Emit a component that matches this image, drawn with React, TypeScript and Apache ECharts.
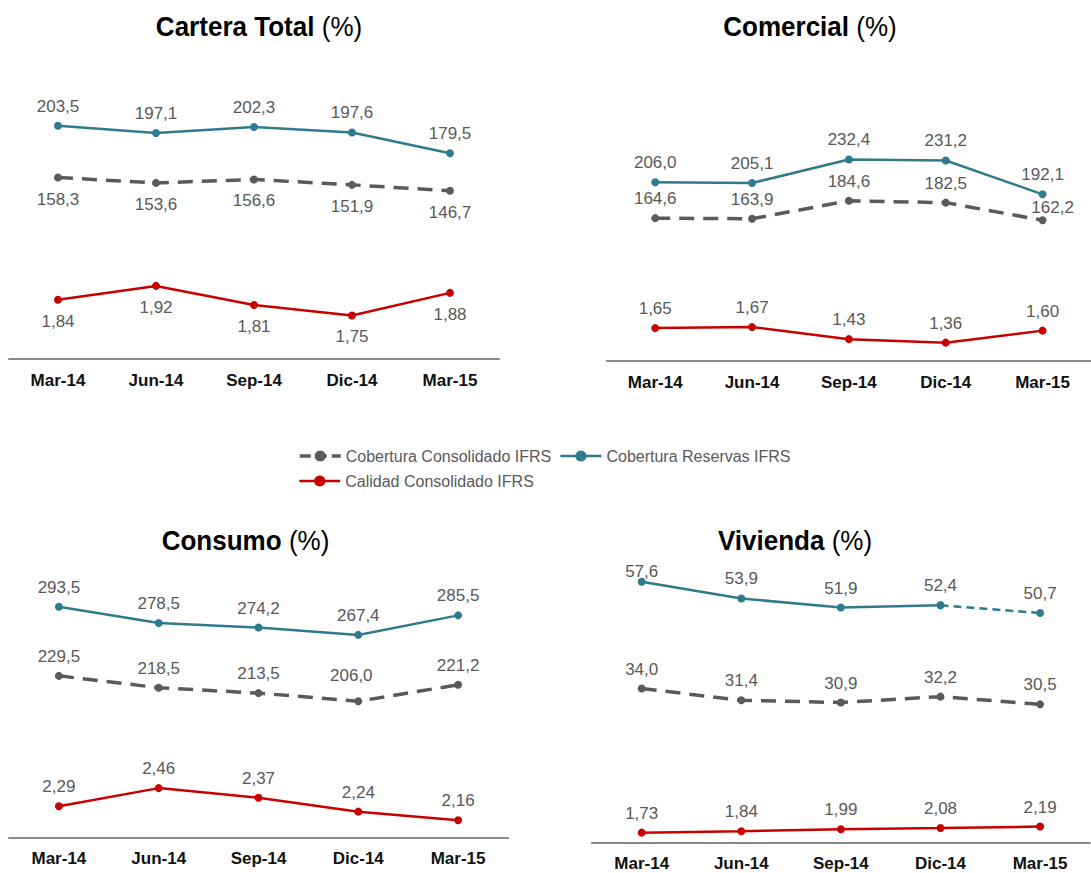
import React, { useEffect, useRef } from 'react';
import * as echarts from 'echarts';

const categories = ['Mar-14', 'Jun-14', 'Sep-14', 'Dic-14', 'Mar-15'];

const carteraConsolidado = [158.3, 153.6, 156.6, 151.9, 146.7];
const carteraReservas = [203.5, 197.1, 202.3, 197.6, 179.5];
const carteraCalidad = [1.84, 1.92, 1.81, 1.75, 1.88];

const comercialConsolidado = [164.6, 163.9, 184.6, 182.5, 162.2];
const comercialReservas = [206.0, 205.1, 232.4, 231.2, 192.1];
const comercialCalidad = [1.65, 1.67, 1.43, 1.36, 1.6];

const consumoConsolidado = [229.5, 218.5, 213.5, 206.0, 221.2];
const consumoReservas = [293.5, 278.5, 274.2, 267.4, 285.5];
const consumoCalidad = [2.29, 2.46, 2.37, 2.24, 2.16];

const viviendaConsolidado = [34.0, 31.4, 30.9, 32.2, 30.5];
const viviendaReservas = [57.6, 53.9, 51.9, 52.4, 50.7];
const viviendaCalidad = [1.73, 1.84, 1.99, 2.08, 2.19];

const NAME_CONS = 'Cobertura Consolidado IFRS';
const NAME_RES = 'Cobertura Reservas IFRS';
const NAME_CAL = 'Calidad Consolidado IFRS';

const FONT = "'Liberation Sans', Arial, sans-serif";
const C_GRAY = '#5a5a5a';
const C_TEAL = '#2f7b8d';
const C_RED = '#c80000';
const C_LABEL = '#595959';

type Panel = {
  title: string;
  tx: number;
  ty: number;
  grid: { left: number; top: number; width: number; height: number };
  y1: [number, number];
  y2: [number, number];
  cons: number[];
  res: number[];
  cal: number[];
  consPos: string;
  calPos: string;
  offsets?: { [key: string]: number[] };
  dashLastRes?: boolean;
};

const panels: Panel[] = [
  {
    title: 'Cartera Total', tx: 259, ty: 27,
    grid: { left: 9, top: 60, width: 490, height: 299 },
    y1: [0, 260.8], y2: [1.5, 3.218],
    cons: carteraConsolidado, res: carteraReservas, cal: carteraCalidad,
    consPos: 'bottom', calPos: 'bottom',
  },
  {
    title: 'Comercial', tx: 810, ty: 27,
    grid: { left: 606.8, top: 60, width: 489.5, height: 300.7 },
    y1: [0, 347.2], y2: [1, 7],
    cons: comercialConsolidado, res: comercialReservas, cal: comercialCalidad,
    consPos: 'top', calPos: 'top',
    offsets: { 'cons-4': [10, 7] },
  },
  {
    title: 'Consumo', tx: 245.5, ty: 541,
    grid: { left: 9, top: 570, width: 499, height: 267.3 },
    y1: [80, 327.5], y2: [2, 4.5],
    cons: consumoConsolidado, res: consumoReservas, cal: consumoCalidad,
    consPos: 'top', calPos: 'top',
    offsets: { 'cons-3': [-7, -6] },
  },
  {
    title: 'Vivienda', tx: 795, ty: 541,
    grid: { left: 591.9, top: 570, width: 498, height: 272.3 },
    y1: [0, 60.2], y2: [1, 21.6],
    cons: viviendaConsolidado, res: viviendaReservas, cal: viviendaCalidad,
    consPos: 'top', calPos: 'top',
    offsets: { 'res-0': [0, 9] },
    dashLastRes: true,
  },
];

const fmt1 = (v: number) => v.toFixed(1).replace('.', ',');
const fmt2 = (v: number) => v.toFixed(2).replace('.', ',');

function labelCfg(position: string, decimals: number) {
  return {
    show: true,
    position,
    distance: position === 'top' ? 7 : 9,
    fontSize: 17,
    fontFamily: FONT,
    color: C_LABEL,
    formatter: (p: any) => {
      const v = Array.isArray(p.value) ? p.value[1] : p.value;
      if (v === null || v === undefined) return '';
      return decimals === 1 ? fmt1(v) : fmt2(v);
    },
  };
}

function dataWith(values: (number | null)[], key: string, offsets?: { [k: string]: number[] }, hide?: number[]) {
  return values.map((v, i) => {
    const off = offsets ? offsets[`${key}-${i}`] : undefined;
    if (hide && hide.includes(i)) return { value: v, label: { show: false } };
    if (off) return { value: v, label: { offset: off } };
    return v;
  });
}

function buildOption() {
  const grids: any[] = [];
  const xAxes: any[] = [];
  const yAxes: any[] = [];
  const series: any[] = [];
  const graphics: any[] = [];

  panels.forEach((p, i) => {
    grids.push({ ...p.grid, containLabel: false });
    xAxes.push({
      type: 'category',
      gridIndex: i,
      data: categories,
      boundaryGap: true,
      axisLine: { show: true, lineStyle: { color: '#8a8a8a', width: 2 } },
      axisTick: { show: false },
      splitLine: { show: false },
      axisLabel: { fontSize: 17, fontWeight: 'bold', color: '#111', fontFamily: FONT, margin: 13 },
    });
    yAxes.push({ type: 'value', gridIndex: i, min: p.y1[0], max: p.y1[1], show: false, splitLine: { show: false } });
    yAxes.push({ type: 'value', gridIndex: i, min: p.y2[0], max: p.y2[1], show: false, splitLine: { show: false } });

    const common = { type: 'line', xAxisIndex: i, symbol: 'circle', symbolSize: 8, z: 3 };

    series.push({
      ...common,
      name: NAME_CONS,
      yAxisIndex: i * 2,
      data: dataWith(p.cons, 'cons', p.offsets),
      itemStyle: { color: C_GRAY },
      lineStyle: { color: C_GRAY, width: 3.5, type: [15, 9] },
      label: labelCfg(p.consPos, 1),
    });

    if (p.dashLastRes) {
      const solid = p.res.map((v, j) => (j <= 3 ? v : null));
      const dashed = p.res.map((v, j) => (j >= 3 ? v : null));
      series.push({
        ...common,
        name: NAME_RES,
        yAxisIndex: i * 2,
        data: dataWith(solid, 'res', p.offsets),
        itemStyle: { color: C_TEAL },
        lineStyle: { color: C_TEAL, width: 2.5 },
        label: labelCfg('top', 1),
      });
      series.push({
        ...common,
        name: NAME_RES + ' (ext)',
        yAxisIndex: i * 2,
        data: dataWith(dashed, 'resx', undefined, [3]),
        itemStyle: { color: C_TEAL },
        lineStyle: { color: C_TEAL, width: 2.5, type: [8, 5] },
        label: labelCfg('top', 1),
      });
    } else {
      series.push({
        ...common,
        name: NAME_RES,
        yAxisIndex: i * 2,
        data: dataWith(p.res, 'res', p.offsets),
        itemStyle: { color: C_TEAL },
        lineStyle: { color: C_TEAL, width: 2.5 },
        label: labelCfg('top', 1),
      });
    }

    series.push({
      ...common,
      name: NAME_CAL,
      yAxisIndex: i * 2 + 1,
      data: dataWith(p.cal, 'cal', p.offsets),
      itemStyle: { color: C_RED },
      lineStyle: { color: C_RED, width: 2.5 },
      label: labelCfg(p.calPos, 2),
    });

    graphics.push({
      type: 'text',
      x: p.tx,
      y: p.ty,
      scaleX: 0.93,
      style: {
        text: `{b|${p.title}}{n| (%)}`,
        align: 'center',
        verticalAlign: 'middle',
        rich: {
          b: { fontSize: 28, fontWeight: 'bold', fontFamily: FONT, fill: '#000' },
          n: { fontSize: 28, fontWeight: 'normal', fontFamily: FONT, fill: '#000' },
        },
      },
    });
  });

  const legendCommon = {
    itemWidth: 41,
    itemHeight: 14,
    itemGap: 8,
    selectedMode: false,
    textStyle: { fontSize: 16, color: C_LABEL, fontFamily: FONT },
  };

  return {
    animation: false,
    backgroundColor: '#ffffff',
    grid: grids,
    xAxis: xAxes,
    yAxis: yAxes,
    series,
    graphic: graphics,
    legend: [
      {
        ...legendCommon,
        left: 293,
        top: 443,
        data: [
          { name: NAME_CONS, lineStyle: { width: 3.5, type: [11, 5] } },
          { name: NAME_RES, lineStyle: { width: 2.5, type: 'solid' } },
        ],
      },
      {
        ...legendCommon,
        left: 293,
        top: 468,
        data: [{ name: NAME_CAL, lineStyle: { width: 2.5, type: 'solid' } }],
      },
    ],
  };
}

export default function App() {
  const ref = useRef<HTMLDivElement>(null);
  useEffect(() => {
    if (!ref.current) return;
    const chart = echarts.init(ref.current, undefined, { renderer: 'svg' });
    chart.setOption(buildOption() as any);
    return () => chart.dispose();
  }, []);
  return (
    <div
      ref={ref}
      style={{ position: 'absolute', left: 0, top: 0, width: 1091, height: 873, background: '#fff' }}
    />
  );
}
